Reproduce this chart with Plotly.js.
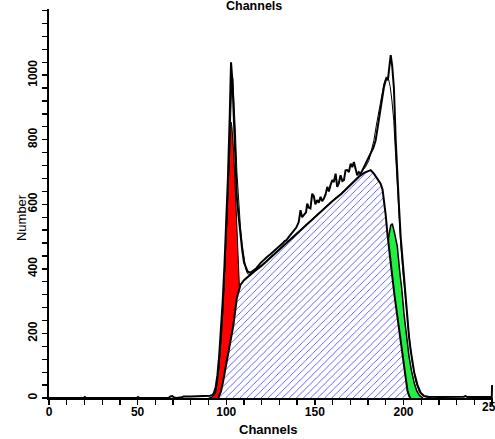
<!DOCTYPE html>
<html>
<head>
<meta charset="utf-8">
<script src="https://cdn.plot.ly/plotly-3.0.1.min.js"></script>
<style>html,body{margin:0;padding:0;background:#fff;}#chart{width:495px;height:439px;}</style>
</head>
<body>
<div id="chart"></div>
<script>
// Measured histogram (thick black line)
const dataX = [0,19.5,20.2,21,49.5,50.2,51,67.5,68.5,69.5,70.5,72,75,76,80,85,89,91,92,93,94,95,96,97,98,99,100,101,102,102.7,103.5,104.2,105,105.5,106,107,108,109,110,110.8,112,113.6,115,117,119.3,121,122,123,124.9,126,127,128.5,130.6,132,133,134,135,136.2,137,138,139.5,140.9,141.9,142.8,143.8,145,145.7,146.5,147.5,148.5,149.4,150.3,151.3,152.2,153.2,154.1,155.1,156,157,157.9,158.8,159.8,160.7,161.7,162.6,163.5,164.5,165.5,166.4,167.3,168.3,169.2,170.2,171.1,172,173,173.9,174.8,175.8,176.8,177.7,178.6,179.6,181.5,183,184.3,185.7,187.1,188,189,190.3,191.2,192,192.8,193.6,194.6,195.6,196.5,197.5,198.4,199.4,200.3,201.2,202.2,203.1,204,205,206,207.9,209.7,211.6,214,220,230,234,235,236,245,249.8,250];
const dataY = [0,0,3,0,0,3,0,0,5,6,2,0,2,5,5,5,6,7,9,15,32,70,130,205,300,410,540,690,880,1040,980,871,760,665,620,561,505,458,420,406,392,388,394,402,418,428,432,437,445,450,456,462,472,480,486,489,497,505,512,518,528,545,582,560,566,575,602,590,587,633,625,600,613,605,623,610,618,630,654,640,659,675,669,695,654,665,690,672,675,705,706,700,726,715,731,710,690,700,695,705,716,725,737,757,775,798,845,891,930,964,990,985,1025,1062,1030,960,800,680,590,500,430,360,300,240,190,150,115,80,40,16,6,4,3,3,4,6,3,3,3,40];

// Model fit (thin black line)
const fitX = [90,92,94,96,98,99.5,100.5,101.5,102.3,103.2,103.7,104.3,105.2,106,107,108,109,110,111,112,113.5,116,120,125,130,135,140,145,150,155,160,165,170,175,176.8,178.5,180.5,182,183.3,184.7,186.2,187.6,189,190,190.9,191.7,192.5,193.5,194.5,195.5,196.5,197.5,198.5,200,201.5,203,205,207,209,212,216];
const fitY = [0,3,15,100,260,430,560,720,880,985,990,930,820,700,600,530,475,430,400,385,382,395,412,437,462,490,515,540,564,587,612,635,662,689,705,715,736,765,798,845,891,935,974,990,995,985,965,920,860,760,650,555,470,370,280,200,110,50,18,4,0];

// G1 peak (red)
const g1X = [91,92.5,93.5,94.5,95.5,96.5,97.5,98.5,99.5,100.5,101.5,102.2,102.7,103.2,104,105,106,107,108,109,110,112,114];
const g1Y = [0,4,12,30,70,130,210,310,430,560,690,800,855,840,780,660,520,390,270,170,100,30,0];

// G2 peak (green)
const g2X = [180,184,187,189,190.5,191.8,192.8,193.7,195,196.5,198,199,200.3,201.7,203.1,204.5,206,207.5,209,211];
const g2Y = [30,120,250,360,440,505,535,540,510,470,385,340,260,190,130,85,48,22,8,0];

// S phase (hatched)
const sX = [95.5,97,98,100,102,104,106,107,108,110,113,116,120,125,130,135,140,145,150,155,160,165,170,175,178,180,181.5,183.3,185,187.1,188.2,189,190,190.9,192,193.7,195,196.6,198,199.4,200.8,202.2,203.2,204];
const sY = [0,20,45,105,160,225,310,335,350,365,380,393,410,435,460,488,513,538,562,585,610,633,660,686,698,703,706,695,682,664,645,613,565,510,450,375,315,251,190,127,70,24,6,0];

const xTicks = [0,50,100,150,200,250];
const yTicks = [0,200,400,600,800,1000];

const F = "Liberation Sans, Arial, sans-serif";

const traces = [
  {x:g1X, y:g1Y, type:'scatter', mode:'lines', fill:'tozeroy', fillcolor:'#ff0000',
   line:{color:'#000', width:1}, hoverinfo:'skip'},
  {x:g2X, y:g2Y, type:'scatter', mode:'lines', fill:'tozeroy', fillcolor:'#20f040',
   line:{color:'#000', width:1.5}, hoverinfo:'skip'},
  {x:sX, y:sY, type:'scatter', mode:'lines', fill:'tozeroy',
   fillpattern:{shape:'/', size:5, solidity:0.15, fgcolor:'#3030ff', bgcolor:'#ffffff'},
   fillcolor:'#ffffff', line:{color:'#000', width:2}, hoverinfo:'skip'},
  {x:fitX, y:fitY, type:'scatter', mode:'lines', line:{color:'#000', width:1}, hoverinfo:'skip'},
  {x:dataX, y:dataY, type:'scatter', mode:'lines', line:{color:'#000', width:2}, hoverinfo:'skip'}
];

const tickFont = {family:F, size:12, color:'#000', weight:'bold'};

const layout = {
  width:495, height:439,
  margin:{l:49, r:2, t:9, b:41, pad:0},
  paper_bgcolor:'#fff', plot_bgcolor:'#fff',
  showlegend:false,
  xaxis:{range:[0,250.5], tickvals:xTicks, ticktext:xTicks.map(String),
    ticks:'outside', ticklen:5, tickwidth:1.5, tickcolor:'#000', ticklabelstandoff:-3,
    showline:true, linewidth:2, linecolor:'#000', showgrid:false, zeroline:false,
    tickfont:tickFont,
    minor:{dtick:10, tick0:0, ticks:'outside', ticklen:5, tickwidth:1.3, tickcolor:'#000', showgrid:false}},
  yaxis:{range:[0,1205], tickvals:yTicks, ticktext:yTicks.map(String), tickangle:-90,
    ticks:'outside', ticklen:5, tickwidth:1.5, tickcolor:'#000',
    showline:true, linewidth:2, linecolor:'#000', showgrid:false, zeroline:false,
    tickfont:tickFont,
    minor:{dtick:40, tick0:0, ticks:'outside', ticklen:5, tickwidth:1.3, tickcolor:'#000', showgrid:false}},
  annotations:[
    {text:'<b>Channels</b>', xref:'paper', yref:'paper', x:0.4616, y:1.0077, xanchor:'center', yanchor:'middle',
     showarrow:false, font:{family:F, size:12.5, color:'#000'}},
    {text:'<b>Channels</b>', xref:'paper', yref:'paper', x:0.4944, y:-0.0797, xanchor:'center', yanchor:'middle',
     showarrow:false, font:{family:F, size:13, color:'#000'}},
    {text:'Number', xref:'paper', yref:'paper', x:-0.0632, y:0.465, xanchor:'center', yanchor:'middle',
     textangle:-90, showarrow:false, font:{family:F, size:13, color:'#000'}},
    {text:'<b>' + xTicks[xTicks.length-1] + '</b>', xref:'x', yref:'paper', x:xTicks[xTicks.length-1], y:-0.024,
     xanchor:'center', yanchor:'middle', showarrow:false, font:{family:F, size:12, color:'#000'}}
  ]
};

Plotly.newPlot('chart', traces, layout, {staticPlot:true, displayModeBar:false});
</script>
</body>
</html>
